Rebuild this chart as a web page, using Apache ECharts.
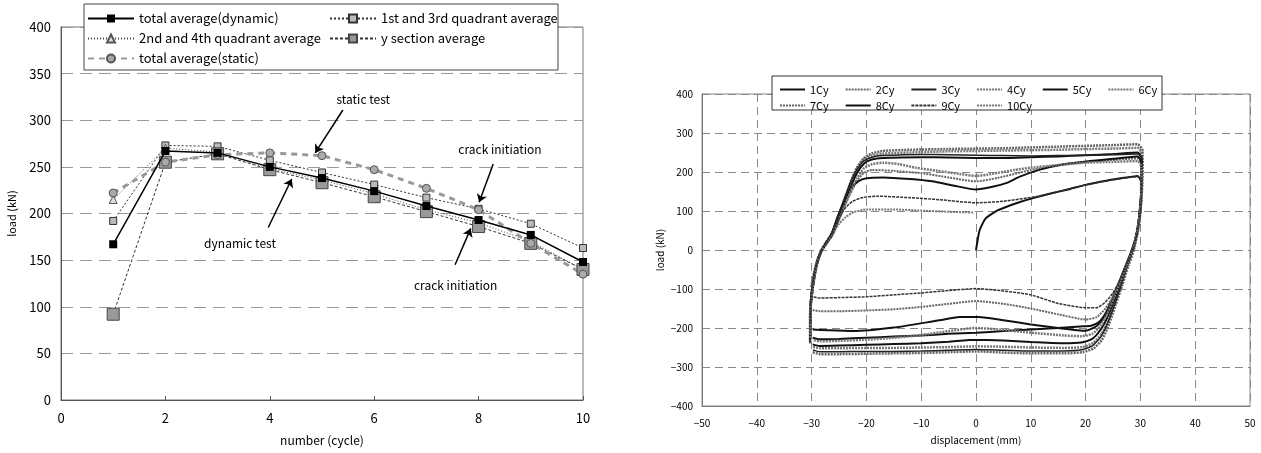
<!DOCTYPE html>
<html>
<head>
<meta charset="utf-8">
<script src="https://cdn.jsdelivr.net/npm/echarts@6/dist/echarts.min.js"></script>
<style>
  html, body { margin: 0; padding: 0; background: #fff; }
  #main { width: 1261px; height: 453px; }
</style>
</head>
<body>
<div id="main"></div>
<script>
// ---- left chart: load vs. cycle number ----
var cycles = [1, 2, 3, 4, 5, 6, 7, 8, 9, 10]
var dynamicAvg = [167, 267, 265, 250, 238, 224, 208, 193, 177, 148]
var quad13Avg = [192, 273, 272, 257, 244, 231, 217, 205, 189, 163]
var quad24Avg = [215, 270, 266, 248, 236, 221, 204, 190, 170, 140]
var ySectionAvg = [92, 255, 264, 247, 233, 218, 202, 186, 168, 140]
var staticAvg = [222, 255, 263, 265, 262, 247, 227, 204, 168, 135]

// annotation texts [label, cycle, load] and arrows [x1, y1, x2, y2]
var notes = [['static test', 5.79, 322], ['crack initiation', 8.41, 269], ['dynamic test', 3.43, 168], ['crack initiation', 7.56, 123]]
var arrows = [[5.40, 311, 4.87, 265], [8.28, 253, 8.01, 212], [3.97, 185, 4.42, 237], [7.55, 145, 7.85, 184]]

// ---- right chart: hysteresis loops [displacement mm, load kN] ----
var cy1 = [[0, 0], [0.3, 25], [0.6, 48], [1, 62], [1.7, 80], [2.6, 90], [4, 102], [5.6, 111], [8, 123], [10.4, 133], [14, 146], [17, 156], [20, 167], [24, 178], [27, 185], [29.5, 190],
  [30.1, 176], [30.1, 125], [29.7, 70], [29, 25], [28.2, -8], [27.3, -40], [26.2, -80], [25, -120], [23.8, -158], [22.5, -184], [21, -194], [19, -196], [15, -200], [10, -204], [5, -208], [0, -212], [-5, -215], [-10, -219], [-15, -222], [-20, -225], [-25, -228], [-28.5, -229], [-29.8, -225]]
var cy2 = [[-30.2, -205], [-30.2, -150], [-29.7, -85], [-29, -35], [-28.2, -3], [-27.2, 20], [-26.2, 42], [-25.2, 80], [-24.2, 122], [-23, 170], [-21.8, 210], [-20.5, 235], [-19, 248], [-17, 254], [-12, 257], [-5, 259], [0, 260], [5, 261], [10, 263], [15, 265], [20, 267], [25, 269], [29.5, 271],
  [30.4, 255], [30.4, 200], [30.2, 130], [29.7, 60], [28.8, 0], [27.8, -40], [26.7, -90], [25.5, -140], [24.3, -190], [23, -230], [21.5, -252], [19.5, -262], [16, -265], [10, -265], [5, -263], [0, -260], [-5, -262], [-10, -264], [-15, -265], [-20, -266], [-25, -267], [-28.5, -267], [-29.8, -262]]
var cy3 = [[-30.3, -240], [-30.3, -170], [-29.8, -100], [-29.1, -40], [-28.3, -5], [-27.3, 20], [-26.3, 45], [-25.3, 85], [-24.2, 125], [-23, 170], [-21.8, 205], [-20.5, 228], [-19, 238], [-17, 242], [-10, 245], [-5, 244], [0, 243], [5, 242], [10, 241], [15, 242], [20, 243], [25, 244], [29.5, 246],
  [30.3, 235], [30.3, 180], [30, 120], [29.5, 55], [28.6, -2], [27.6, -40], [26.5, -90], [25.3, -140], [24.1, -185], [22.8, -222], [21.3, -245], [19.3, -256], [16, -259], [10, -259], [5, -257], [0, -255], [-5, -257], [-10, -259], [-15, -260], [-20, -260], [-25, -261], [-28.5, -261], [-29.8, -256]]
var cy4 = [[-30.3, -235], [-30.3, -165], [-29.8, -95], [-29.1, -38], [-28.3, -5], [-27.3, 18], [-26.3, 42], [-25.3, 80], [-24.2, 120], [-23, 165], [-21.8, 205], [-20.5, 232], [-19, 242], [-17, 247], [-10, 251], [-5, 253], [0, 254], [5, 255], [10, 256], [15, 257], [20, 259], [25, 260], [29.5, 262],
  [30.3, 245], [30.3, 190], [30.1, 125], [29.6, 58], [28.7, -2], [27.7, -40], [26.6, -88], [25.4, -135], [24.2, -180], [22.9, -215], [21.4, -238], [19.4, -249], [16, -251], [10, -250], [5, -248], [0, -247], [-5, -249], [-10, -250], [-15, -251], [-20, -251], [-25, -252], [-28.5, -252], [-29.8, -248]]
var cy5 = [[-30.2, -230], [-30.2, -160], [-29.7, -90], [-29, -35], [-28.2, -3], [-27.2, 18], [-26.2, 40], [-25.2, 75], [-24.1, 115], [-22.9, 160], [-21.7, 198], [-20.4, 222], [-19, 232], [-17, 236], [-10, 238], [-5, 237], [0, 236], [5, 236], [10, 238], [15, 240], [20, 243], [25, 246], [29.5, 250],
  [30.2, 235], [30.2, 175], [30, 115], [29.4, 50], [28.5, -3], [27.5, -40], [26.4, -85], [25.2, -130], [24, -172], [22.7, -205], [21.2, -228], [19.2, -237], [16, -239], [10, -236], [5, -232], [0, -230], [-5, -235], [-10, -239], [-15, -241], [-20, -243], [-25, -245], [-28.5, -246], [-29.8, -242]]
var cy6 = [[-30.2, -225], [-30.2, -155], [-29.7, -88], [-29, -35], [-28.2, -3], [-27.2, 18], [-26.2, 38], [-25.2, 72], [-24.1, 110], [-22.9, 150], [-21.7, 185], [-20.4, 210], [-19, 220], [-17, 224], [-14, 220], [-11, 211], [-7, 203], [-3, 195], [0, 190], [2, 193], [4, 198], [7, 205], [10, 211], [15, 218], [20, 224], [25, 226], [29.5, 228],
  [30.2, 212], [30.2, 160], [30, 105], [29.4, 45], [28.5, -3], [27.5, -38], [26.4, -80], [25.2, -122], [24, -162], [22.7, -195], [21.2, -215], [19.2, -221], [16, -219], [10, -212], [5, -205], [0, -200], [-5, -208], [-10, -218], [-15, -225], [-20, -230], [-25, -233], [-28.5, -234], [-29.8, -230]]
var cy7 = [[-30.2, -200], [-30.2, -140], [-29.7, -85], [-29, -35], [-28.2, -3], [-27.2, 18], [-26.2, 38], [-25.2, 70], [-24.1, 108], [-22.9, 145], [-21.7, 178], [-20.4, 198], [-19, 205], [-15, 203], [-10, 197], [-5, 186], [0, 176], [4, 185], [10, 205], [15, 217], [20, 226], [25, 231], [29.5, 235],
  [30.2, 218], [30.2, 160], [29.9, 100], [29.4, 42], [28.5, -3], [27.5, -38], [26.3, -80], [25, -120], [23.6, -150], [22, -172], [20, -178], [15, -165], [10, -150], [5, -138], [0, -131], [-5, -138], [-10, -146], [-15, -152], [-20, -155], [-25, -157], [-28.5, -157], [-29.8, -154]]
var cy8 = [[-30.2, -140], [-29.8, -85], [-29.1, -35], [-28.3, -3], [-27.3, 20], [-26.3, 42], [-25.2, 85], [-24, 125], [-22.8, 158], [-21.5, 176], [-20, 184], [-17, 186], [-12, 182], [-8, 176], [-4, 165], [0, 155], [3, 162], [5.6, 172], [8, 188], [11.7, 206], [16, 220], [20.8, 228], [25, 234], [29.5, 240],
  [30.2, 222], [30.2, 165], [29.9, 105], [29.4, 45], [28.5, -3], [27.5, -40], [26.3, -85], [25, -130], [23.6, -168], [22, -195], [20, -207], [15, -200], [10, -191], [5, -180], [0, -171], [-3, -172], [-7, -181], [-15, -199], [-22.5, -208], [-27, -206], [-29.8, -204]]
var cy9 = [[-30.2, -185], [-30.2, -130], [-29.8, -85], [-29.1, -38], [-28.3, -5], [-27.3, 20], [-26.3, 42], [-25.2, 75], [-24, 105], [-22.5, 125], [-20.5, 135], [-18, 138], [-12, 134], [-6.6, 129], [0, 121], [5, 125], [11, 137], [15, 150], [20, 167], [25, 180], [29.5, 188],
  [30.2, 175], [30.2, 130], [29.9, 80], [29.3, 35], [28.5, -3], [27.5, -35], [26.3, -75], [25, -110], [23.5, -135], [22, -148], [20, -148], [15, -137], [10, -115], [5, -105], [0, -99], [-5, -104], [-10, -110], [-15, -115], [-20, -120], [-25, -122], [-28.5, -123], [-29.8, -120]]
var cy10 = [[-30.1, -95], [-29.6, -55], [-28.9, -20], [-28.1, 5], [-27.2, 25], [-26.2, 45], [-25.1, 65], [-23.8, 84], [-22.3, 97], [-20, 104], [-15, 104], [-10, 101], [-5, 98], [-0.5, 96]]

var loops = [cy1, cy2, cy3, cy4, cy5, cy6, cy7, cy8, cy9, cy10]
var loopNames = ['1Cy', '2Cy', '3Cy', '4Cy', '5Cy', '6Cy', '7Cy', '8Cy', '9Cy', '10Cy']

// line look per cycle (solid black vs. dotted grey)
var loopStyles = [
  { color: '#111', width: 2, type: 'solid' },
  { color: '#666', width: 2.5, type: [2, 1] },
  { color: '#222', width: 1.5, type: 'solid' },
  { color: '#777', width: 2.5, type: [2, 1] },
  { color: '#111', width: 2, type: 'solid' },
  { color: '#777', width: 2.5, type: [2, 1] },
  { color: '#666', width: 2, type: [2, 1] },
  { color: '#111', width: 2, type: 'solid' },
  { color: '#333', width: 1.5, type: [3, 1] },
  { color: '#777', width: 2, type: [2, 1] }
]

var font = "'Noto Sans CJK JP', sans-serif"
var pairs = function (arr) { return cycles.map(function (c, i) { return [c, arr[i]] }) }
var minus = function (v) { return String(v).replace('-', '\u2212') }

var chart = echarts.init(document.getElementById('main'))

var series = [
  {
    name: 'total average(dynamic)', type: 'line', xAxisIndex: 0, yAxisIndex: 0,
    data: pairs(dynamicAvg), symbol: 'rect', symbolSize: 8,
    itemStyle: { color: '#000' },
    lineStyle: { color: '#000', width: 1.5 },
    z: 5,
    markLine: {
      silent: true,
      symbol: ['none', 'arrow'],
      symbolSize: 8,
      label: { show: false },
      lineStyle: { color: '#000', width: 1.5, type: 'solid' },
      data: arrows.map(function (a) { return [{ coord: [a[0], a[1]] }, { coord: [a[2], a[3]] }] })
    },
    markPoint: {
      silent: true,
      symbol: 'circle',
      symbolSize: 1,
      itemStyle: { color: 'rgba(0,0,0,0)' },
      label: { show: true, position: 'inside', color: '#000', fontSize: 12, fontFamily: font, formatter: function (p) { return p.name } },
      data: notes.map(function (n) { return { name: n[0], coord: [n[1], n[2]] } })
    }
  },
  {
    name: '1st and 3rd quadrant average', type: 'line', xAxisIndex: 0, yAxisIndex: 0,
    data: pairs(quad13Avg), symbol: 'rect', symbolSize: 7,
    itemStyle: { color: '#bbb', borderColor: '#333', borderWidth: 1 },
    lineStyle: { color: '#333', width: 1, type: [2, 2] }
  },
  {
    name: '2nd and 4th quadrant average', type: 'line', xAxisIndex: 0, yAxisIndex: 0,
    data: pairs(quad24Avg), symbol: 'triangle', symbolSize: 8,
    itemStyle: { color: '#ddd', borderColor: '#555', borderWidth: 1 },
    lineStyle: { color: '#444', width: 1, type: [1, 2] }
  },
  {
    name: 'y section average', type: 'line', xAxisIndex: 0, yAxisIndex: 0,
    data: pairs(ySectionAvg), symbol: 'rect', symbolSize: 12,
    itemStyle: { color: '#999', borderColor: '#444', borderWidth: 1 },
    lineStyle: { color: '#333', width: 1, type: [3, 2] }
  },
  {
    name: 'total average(static)', type: 'line', xAxisIndex: 0, yAxisIndex: 0,
    data: pairs(staticAvg), symbol: 'circle', symbolSize: 8,
    itemStyle: { color: '#aaa', borderColor: '#555', borderWidth: 1 },
    lineStyle: { color: '#999', width: 3, type: [6, 5] }
  }
]

loops.forEach(function (loop, i) {
  series.push({
    name: loopNames[i], type: 'line', xAxisIndex: 1, yAxisIndex: 1,
    data: loop, symbol: 'none', smooth: 0.2,
    itemStyle: { color: loopStyles[i].color },
    lineStyle: loopStyles[i],
    z: 2 + (i % 3)
  })
})

var leftLegend = {
  orient: 'vertical', z: 10, top: 7,
  itemWidth: 46, itemHeight: 10, itemGap: 7,
  textStyle: { fontSize: 13, color: '#000', fontFamily: font }
}
var rightLegend = {
  z: 10, itemWidth: 25, itemHeight: 8, itemGap: 16,
  itemStyle: { opacity: 0 },
  textStyle: { fontSize: 11, color: '#000', fontFamily: font }
}

chart.setOption({
  animation: false,
  backgroundColor: '#fff',
  textStyle: { fontFamily: font, color: '#000' },
  grid: [
    { left: 61, right: 678, top: 27, bottom: 53, show: true, borderColor: '#777', borderWidth: 1 },
    { left: 702, right: 11, top: 94, bottom: 47, show: true, borderColor: '#888', borderWidth: 1 }
  ],
  graphic: [
    { type: 'rect', z: 5, shape: { x: 84, y: 4, width: 474, height: 66 }, style: { fill: '#fff', stroke: '#444', lineWidth: 1 } },
    { type: 'rect', z: 5, shape: { x: 772, y: 76, width: 390, height: 34 }, style: { fill: '#fff', stroke: '#333', lineWidth: 1 } }
  ],
  legend: [
    Object.assign({}, leftLegend, { left: 82, data: ['total average(dynamic)', '2nd and 4th quadrant average', 'total average(static)'] }),
    Object.assign({}, leftLegend, { left: 324, data: ['1st and 3rd quadrant average', 'y section average'] }),
    Object.assign({}, rightLegend, { left: 774, top: 79, data: loopNames.slice(0, 6) }),
    Object.assign({}, rightLegend, { left: 774, top: 95, data: loopNames.slice(6) })
  ],
  xAxis: [
    {
      gridIndex: 0, type: 'value', min: 0, max: 10, interval: 2,
      name: 'number (cycle)', nameLocation: 'middle', nameGap: 34,
      nameTextStyle: { fontSize: 12, color: '#000' },
      axisLine: { lineStyle: { color: '#555' } },
      axisTick: { show: true, inside: true, length: 4, lineStyle: { color: '#555' } },
      axisLabel: { fontSize: 13, color: '#000', margin: 12 },
      splitLine: { show: false }
    },
    {
      gridIndex: 1, type: 'value', min: -50, max: 50, interval: 10,
      name: 'displacement (mm)', nameLocation: 'middle', nameGap: 29,
      nameTextStyle: { fontSize: 10, color: '#000' },
      axisLine: { onZero: false, lineStyle: { color: '#777' } },
      axisTick: { show: false },
      axisLabel: { fontSize: 10, color: '#000', margin: 12, formatter: minus },
      splitLine: { show: true, lineStyle: { color: '#888', type: [8, 5] } }
    }
  ],
  yAxis: [
    {
      gridIndex: 0, type: 'value', min: 0, max: 400, interval: 50,
      name: 'load (kN)', nameLocation: 'middle', nameGap: 44,
      nameTextStyle: { fontSize: 11, color: '#000' },
      axisLine: { show: true, lineStyle: { color: '#555' } },
      axisTick: { show: false },
      axisLabel: { fontSize: 13, color: '#000', margin: 10 },
      splitLine: { show: true, lineStyle: { color: '#999', type: [12, 7] } }
    },
    {
      gridIndex: 1, type: 'value', min: -400, max: 400, interval: 100,
      name: 'load (kN)', nameLocation: 'middle', nameGap: 37,
      nameTextStyle: { fontSize: 10, color: '#000' },
      axisLine: { show: true, onZero: false, lineStyle: { color: '#777' } },
      axisTick: { show: false },
      axisLabel: { fontSize: 10, color: '#000', margin: 9, formatter: minus },
      splitLine: { show: true, lineStyle: { color: '#888', type: [8, 5] } }
    }
  ],
  series: series
})
</script>
</body>
</html>
